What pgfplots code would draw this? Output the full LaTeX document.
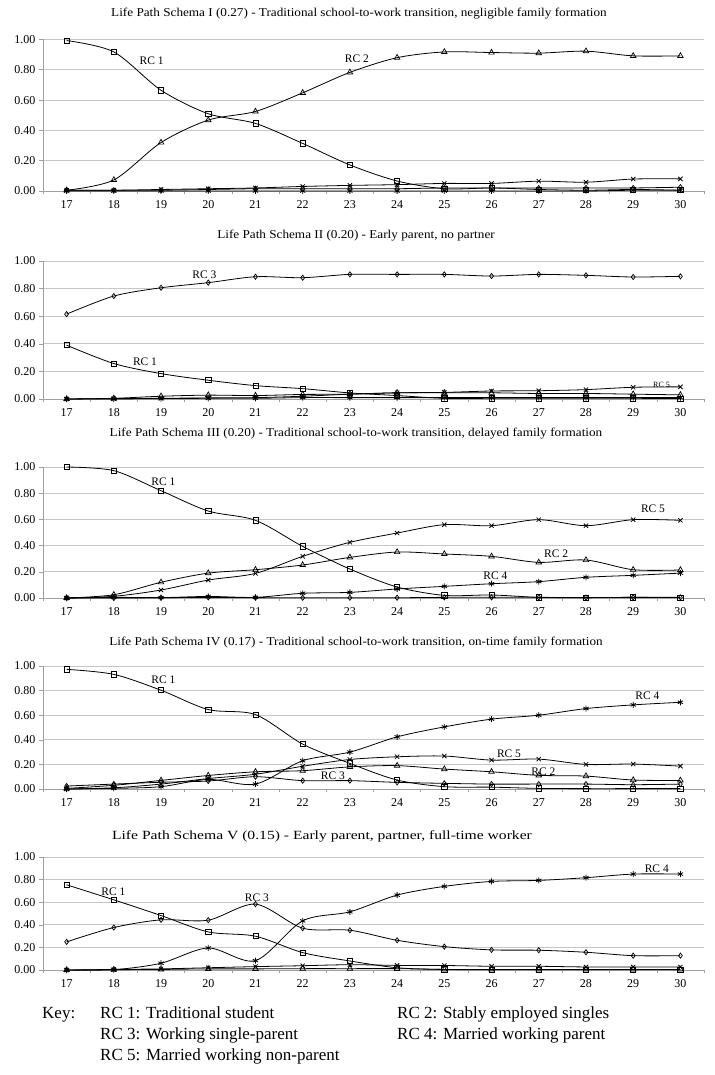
\documentclass[border=0pt]{standalone}
\usepackage{fontspec}
\setmainfont{Liberation Serif}
\usepackage{pgfplots}
\pgfplotsset{compat=1.18}

\tikzset{lab/.style={font=\fontsize{11.5}{13}\selectfont},
  ttl/.style={font=\fontsize{12}{14}\selectfont, xscale=1.1}}
\pgfplotsset{
  panel/.style={
    scale only axis, width=661pt,
    xmin=16.5, xmax=30.5, ymin=0, ymax=1,
    axis x line*=bottom, axis y line*=left,
    axis line style={gray!75, line width=0.7pt, -},
    xtick={17,18,19,20,21,22,23,24,25,26,27,28,29,30},
    xticklabels={17,18,19,20,21,22,23,24,25,26,27,28,29,30},
    minor xtick={16.5,17.5,18.5,19.5,20.5,21.5,22.5,23.5,24.5,25.5,26.5,27.5,28.5,29.5,30.5},
    ytick={0,0.2,0.4,0.6,0.8,1},
    yticklabels={0.00,0.20,0.40,0.60,0.80,1.00},
    ymajorgrids, grid style={gray!45, line width=0.7pt},
    tick align=outside,
    major x tick style={draw=none},
    minor x tick style={gray!75, line width=0.5pt},
    minor tick length=3pt,
    major tick length=4pt,
    ytick style={gray!75, line width=0.6pt},
    ticklabel style={font=\fontsize{12}{14}\selectfont},
    xticklabel style={yshift=-2pt},
    clip=false,
    every axis plot/.append style={black, line width=0.8pt, smooth, tension=0.5},
  },
  rc1/.style={mark=square, mark size=2.6pt, mark options={solid, fill=white, line width=0.7pt}},
  rc2/.style={mark=triangle, mark size=3.2pt, mark options={solid, fill=white, line width=0.7pt}},
  rc3/.style={mark=diamond, mark size=2.6pt, mark options={solid, fill=white, line width=0.7pt}},
  rc4/.style={mark=asterisk, mark size=3pt, mark options={solid, line width=0.8pt}},
  rc5/.style={mark=x, mark size=3pt, mark options={solid, line width=0.8pt}},
}

\begin{document}
\begin{tikzpicture}[x=1pt,y=1pt]
\useasboundingbox (0,0) rectangle (714,-1075);

% ---------------- Panel I ----------------
\node[ttl] at (359,-14) {Life Path Schema I (0.27) - Traditional school-to-work transition, negligible family formation};
\begin{axis}[panel, height=151.5pt, at={(43pt,-191pt)}, anchor=south west]
\addplot[rc4] coordinates {(17,0) (18,0) (19,0) (20,0) (21,0) (22,0) (23,0) (24,0) (25,0) (26,0) (27,0) (28,0) (29,0.005) (30,0.005)};
\addplot[rc3] coordinates {(17,0.005) (18,0.005) (19,0.005) (20,0.01) (21,0.015) (22,0.015) (23,0.015) (24,0.015) (25,0.02) (26,0.02) (27,0.02) (28,0.02) (29,0.02) (30,0.025)};
\addplot[rc5] coordinates {(17,0.005) (18,0.005) (19,0.01) (20,0.015) (21,0.02) (22,0.03) (23,0.037) (24,0.042) (25,0.05) (26,0.05) (27,0.065) (28,0.058) (29,0.079) (30,0.08)};
\addplot[rc2] coordinates {(17,0.005) (18,0.073) (19,0.32) (20,0.468) (21,0.525) (22,0.648) (23,0.783) (24,0.88) (25,0.918) (26,0.914) (27,0.91) (28,0.923) (29,0.892) (30,0.892)};
\addplot[rc1] coordinates {(17,0.993) (18,0.918) (19,0.665) (20,0.51) (21,0.446) (22,0.314) (23,0.172) (24,0.066) (25,0.015) (26,0.02) (27,0.01) (28,0.005) (29,0.01) (30,0.005)};
\node[lab] at (axis cs:18.8,0.86) {RC 1};
\node[lab] at (axis cs:23.15,0.87) {RC 2};
\end{axis}

% ---------------- Panel II ----------------
\node[ttl] at (356,-236) {Life Path Schema II (0.20) - Early parent, no partner};
\begin{axis}[panel, height=138pt, at={(43pt,-399pt)}, anchor=south west]
\addplot[rc4] coordinates {(17,0) (18,0) (19,0.003) (20,0.005) (21,0.005) (22,0.01) (23,0.01) (24,0.01) (25,0.01) (26,0.01) (27,0.01) (28,0.01) (29,0.01) (30,0.01)};
\addplot[rc2] coordinates {(17,0) (18,0.005) (19,0.02) (20,0.028) (21,0.025) (22,0.033) (23,0.035) (24,0.045) (25,0.045) (26,0.045) (27,0.04) (28,0.04) (29,0.035) (30,0.03)};
\addplot[rc5] coordinates {(17,0) (18,0.003) (19,0.005) (20,0.008) (21,0.01) (22,0.02) (23,0.035) (24,0.045) (25,0.048) (26,0.058) (27,0.06) (28,0.068) (29,0.085) (30,0.088)};
\addplot[rc1] coordinates {(17,0.39) (18,0.257) (19,0.184) (20,0.136) (21,0.097) (22,0.075) (23,0.044) (24,0.025) (25,0.005) (26,0.005) (27,0.005) (28,0.005) (29,0.005) (30,0.003)};
\addplot[rc3] coordinates {(17,0.615) (18,0.746) (19,0.806) (20,0.843) (21,0.886) (22,0.879) (23,0.903) (24,0.903) (25,0.903) (26,0.891) (27,0.903) (28,0.896) (29,0.884) (30,0.889)};
\node[lab] at (axis cs:19.92,0.90) {RC 3};
\node[lab] at (axis cs:18.66,0.27) {RC 1};
\node[font=\fontsize{8}{9}\selectfont] at (axis cs:29.6,0.104) {RC 5};
\end{axis}

% ---------------- Panel III ----------------
\node[ttl] at (356,-434) {Life Path Schema III (0.20) - Traditional school-to-work transition, delayed family formation};
\begin{axis}[panel, height=131pt, at={(43pt,-598pt)}, anchor=south west]
\addplot[rc3] coordinates {(17,0) (18,0) (19,0.002) (20,0.005) (21,0.003) (22,0.002) (23,0.002) (24,0.002) (25,0.005) (26,0.005) (27,0.005) (28,0.003) (29,0.005) (30,0.005)};
\addplot[rc4] coordinates {(17,0) (18,0.005) (19,0.003) (20,0.012) (21,0.005) (22,0.036) (23,0.043) (24,0.069) (25,0.089) (26,0.109) (27,0.125) (28,0.158) (29,0.173) (30,0.19)};
\addplot[rc2] coordinates {(17,0) (18,0.025) (19,0.12) (20,0.19) (21,0.216) (22,0.252) (23,0.31) (24,0.351) (25,0.336) (26,0.318) (27,0.272) (28,0.29) (29,0.216) (30,0.214)};
\addplot[rc5] coordinates {(17,0) (18,0.013) (19,0.061) (20,0.137) (21,0.188) (22,0.318) (23,0.425) (24,0.496) (25,0.56) (26,0.552) (27,0.598) (28,0.552) (29,0.598) (30,0.593)};
\addplot[rc1] coordinates {(17,1.0) (18,0.972) (19,0.819) (20,0.664) (21,0.593) (22,0.394) (23,0.221) (24,0.084) (25,0.02) (26,0.023) (27,0.005) (28,0.003) (29,0.005) (30,0.003)};
\node[lab] at (axis cs:19.05,0.89) {RC 1};
\node[lab] at (axis cs:29.42,0.68) {RC 5};
\node[lab] at (axis cs:27.37,0.34) {RC 2};
\node[lab] at (axis cs:26.08,0.17) {RC 4};
\end{axis}

% ---------------- Panel IV ----------------
\node[ttl] at (356,-643) {Life Path Schema IV (0.17) - Traditional school-to-work transition, on-time family formation};
\begin{axis}[panel, height=123pt, at={(43pt,-789pt)}, anchor=south west]
\addplot[rc3] coordinates {(17,0.024) (18,0.04) (19,0.055) (20,0.065) (21,0.1) (22,0.068) (23,0.068) (24,0.054) (25,0.046) (26,0.04) (27,0.04) (28,0.04) (29,0.035) (30,0.04)};
\addplot[rc2] coordinates {(17,0.005) (18,0.03) (19,0.07) (20,0.11) (21,0.14) (22,0.149) (23,0.18) (24,0.19) (25,0.162) (26,0.14) (27,0.111) (28,0.105) (29,0.073) (30,0.07)};
\addplot[rc5] coordinates {(17,0) (18,0.01) (19,0.04) (20,0.085) (21,0.12) (22,0.185) (23,0.24) (24,0.262) (25,0.268) (26,0.235) (27,0.243) (28,0.2) (29,0.203) (30,0.186)};
\addplot[rc4] coordinates {(17,0) (18,0.005) (19,0.019) (20,0.078) (21,0.04) (22,0.23) (23,0.30) (24,0.424) (25,0.505) (26,0.568) (27,0.6) (28,0.654) (29,0.684) (30,0.705)};
\addplot[rc1] coordinates {(17,0.973) (18,0.932) (19,0.803) (20,0.646) (21,0.605) (22,0.365) (23,0.208) (24,0.073) (25,0.019) (26,0.015) (27,0.005) (28,0.003) (29,0.003) (30,0.003)};
\node[lab] at (axis cs:19.05,0.89) {RC 1};
\node[lab] at (axis cs:29.3,0.76) {RC 4};
\node[lab] at (axis cs:26.37,0.29) {RC 5};
\node[lab] at (axis cs:27.1,0.14) {RC 2};
\node[lab] at (axis cs:22.64,0.11) {RC 3};
\end{axis}

% ---------------- Panel V ----------------
\node[font=\fontsize{12.5}{14}\selectfont, xscale=1.25] at (322,-836) {Life Path Schema V (0.15) - Early parent, partner, full-time worker};
\begin{axis}[panel, height=113pt, at={(43pt,-970pt)}, anchor=south west]
\addplot[rc2] coordinates {(17,0) (18,0.003) (19,0.005) (20,0.01) (21,0.01) (22,0.012) (23,0.012) (24,0.012) (25,0.005) (26,0.005) (27,0.005) (28,0.005) (29,0.005) (30,0.005)};
\addplot[rc5] coordinates {(17,0) (18,0.005) (19,0.01) (20,0.02) (21,0.03) (22,0.038) (23,0.047) (24,0.041) (25,0.04) (26,0.033) (27,0.033) (28,0.027) (29,0.027) (30,0.027)};
\addplot[rc1] coordinates {(17,0.754) (18,0.621) (19,0.482) (20,0.337) (21,0.299) (22,0.154) (23,0.08) (24,0.02) (25,0.005) (26,0.003) (27,0.003) (28,0.003) (29,0.003) (30,0.003)};
\addplot[rc3] coordinates {(17,0.249) (18,0.376) (19,0.444) (20,0.441) (21,0.583) (22,0.37) (23,0.352) (24,0.263) (25,0.207) (26,0.178) (27,0.175) (28,0.157) (29,0.127) (30,0.127)};
\addplot[rc4] coordinates {(17,0) (18,0.003) (19,0.06) (20,0.195) (21,0.083) (22,0.435) (23,0.515) (24,0.663) (25,0.74) (26,0.784) (27,0.793) (28,0.817) (29,0.849) (30,0.849)};
\node[lab] at (axis cs:17.99,0.695) {RC 1};
\node[lab] at (axis cs:21.03,0.64) {RC 3};
\node[lab] at (axis cs:29.5,0.896) {RC 4};
\end{axis}

% ---------------- Key ----------------
\begin{scope}[every node/.style={anchor=base west, inner sep=0pt, font=\fontsize{17}{20}\selectfont}]
\node at (42,-1018) {Key:};
\node at (100,-1018) {RC 1: Traditional student};
\node at (397,-1018) {RC 2: Stably employed singles};
\node at (100,-1039) {RC 3: Working single-parent};
\node at (397,-1039) {RC 4: Married working parent};
\node at (100,-1060) {RC 5: Married working non-parent};
\end{scope}
\end{tikzpicture}
\end{document}
